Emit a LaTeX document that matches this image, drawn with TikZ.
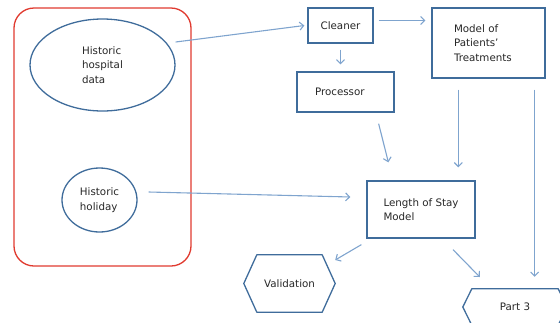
\documentclass[tikz,border=0pt]{standalone}
\usepackage{fontspec}
\setmainfont{DejaVu Sans}
\usetikzlibrary{arrows.meta, positioning, shapes.geometric, calc}

\definecolor{boxblue}{HTML}{3F6C9B}
\definecolor{arrowblue}{HTML}{7FA4CE}
\definecolor{groupred}{HTML}{E03A2F}

\begin{document}
\begin{tikzpicture}[
        x=1pt, y=-1pt,
        every node/.style={font=\fontsize{10.3}{14.5}\selectfont, text=black!85},
        box/.style={rectangle, draw=boxblue, line width=1.3pt, align=left},
        blob/.style={ellipse, draw=boxblue, line width=1.3pt, align=left, inner sep=0pt},
        hexa/.style={rectangle, inner sep=0pt},
        hexline/.style={draw=boxblue, line width=1.3pt, line join=round},
        group/.style={rectangle, rounded corners=20pt, draw=groupred, line width=1.3pt},
        arrow/.style={-{Straight Barb[length=4pt, width=8pt]}, arrowblue, line width=1.1pt}
    ]
    \useasboundingbox (0,0) rectangle (560,322);

    % input data
    \node[group, minimum width=177pt, minimum height=258pt] (inputs) at (102.5,137) {};
    \node[blob, minimum width=145pt, minimum height=92pt] (hosp) at (102.5,65) {Historic\\hospital\\data};
    \node[blob, minimum width=75pt, minimum height=64pt] (hol) at (99.5,200) {Historic\\holiday};

    % processing chain
    \node[box, minimum width=65pt, minimum height=35pt] (cleaner) at (340.5,25.5) {Cleaner};
    \node[box, minimum width=113pt, minimum height=70pt, text width=69pt, inner xsep=22pt] (model) at (488.5,43) {Model of\\Patients'\\Treatments};
    \node[box, minimum width=97pt, minimum height=40pt, text width=61pt, inner xsep=18pt] (proc) at (345.5,92) {Processor};
    \node[box, minimum width=108pt, minimum height=57pt] (los) at (421,209.5) {Length of Stay\\Model};

    % outputs
    \node[hexa, minimum width=91pt, minimum height=57pt] (valid) at (289.5,283.5) {Validation};
    \node[hexa, minimum width=104pt, minimum height=36pt] (part3) at (515,307) {Part 3};
    \draw[hexline] (valid.west) -- ([xshift=13pt]valid.north west) -- ([xshift=-13pt]valid.north east)
        -- (valid.east) -- ([xshift=-13pt]valid.south east) -- ([xshift=13pt]valid.south west) -- cycle;
    \draw[hexline] (part3.west) -- ([xshift=9pt]part3.north west) -- ([xshift=-9pt]part3.north east)
        -- (part3.east) -- ([xshift=-9pt]part3.south east) -- ([xshift=9pt]part3.south west) -- cycle;

    \draw[arrow] ($(hosp.east)+(0,-23)$) -- ($(cleaner.west)+(-3,0)$);
    \draw[arrow] ($(cleaner.east)+(5,-5)$) -- ($(cleaner.east -| model.west)+(-6,-5)$);
    \draw[arrow] ($(cleaner.south)+(0,6)$) -- ($(cleaner.south |- proc.north)+(0,-7)$);
    \draw[arrow] ($(proc.south east)+(-16,11)$) -- ($(los.north west)+(22,-18)$);
    \draw[arrow] ($(model.south west)+(27,11)$) -- ($(model.south west |- los.north)+(27,-13)$);
    \draw[arrow] ($(model.south east)+(-11,11)$) -- ($(model.south east |- part3.north)+(-11,-12)$);
    \draw[arrow] ($(hol.east)+(11,-8)$) -- ($(los.west)+(-16,-12.5)$);
    \draw[arrow] ($(los.south west)+(-5,6)$) -- ($(valid.east)+(0,-23.5)$);
    \draw[arrow] ($(los.south)+(32,11)$) -- ($(part3.west)+(17,-30)$);
\end{tikzpicture}
\end{document}
